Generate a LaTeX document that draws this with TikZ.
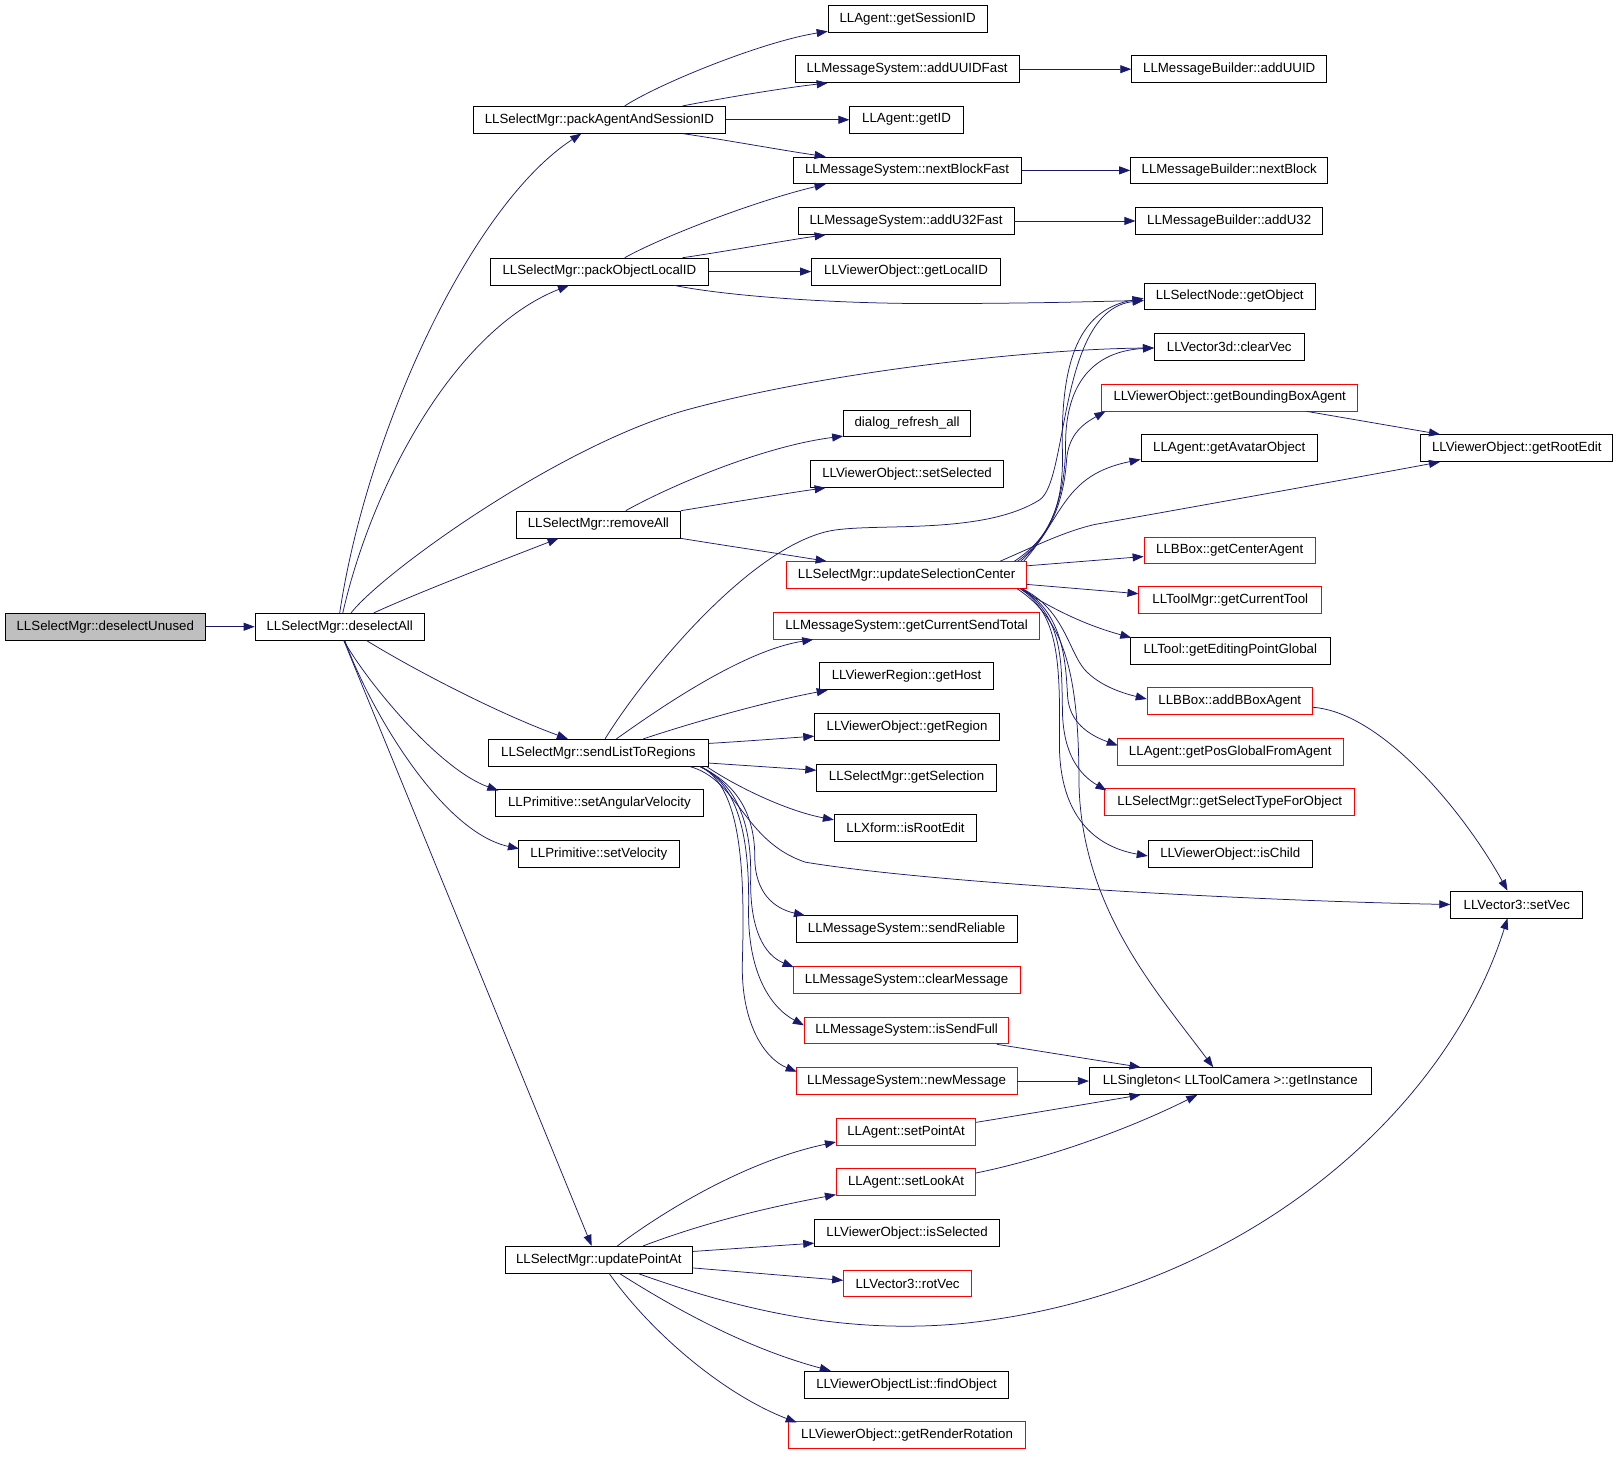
\documentclass[tikz,border=0pt]{standalone}
\usepackage{fontspec}
\setmainfont{Liberation Sans}
\usetikzlibrary{arrows.meta,calc}
\definecolor{edgec}{HTML}{191970}
\definecolor{grayfill}{HTML}{BFBFBF}
\tikzset{
  fn/.style={draw=black, line width=0.8pt, inner sep=0pt, minimum height=26.85pt,
    font=\fontsize{13.3}{15}\selectfont, fill=white},
  rn/.style={fn, draw=red},
  gn/.style={fn, fill=grayfill},
  bw/.style={minimum width=#1*1.0325pt},
  edg/.style={draw=edgec, line width=0.75pt, -{Triangle[length=11pt,width=8pt]}}
}
\begin{document}
\begin{tikzpicture}[x=1.0325pt, y=-1.0325pt]
\useasboundingbox (0,0) rectangle (1568,1410.2);
% column 1-2
\node[gn, bw=194] (dU) at (102,607) {LLSelectMgr::deselectUnused};
\node[fn, bw=164] (dA) at (329,607) {LLSelectMgr::deselectAll};
\node[fn, bw=245] (pA) at (580.5,116) {LLSelectMgr::packAgentAndSessionID};
\node[fn, bw=211] (pO) at (580.5,263) {LLSelectMgr::packObjectLocalID};
\node[fn, bw=159] (rA) at (579.5,508) {LLSelectMgr::removeAll};
\node[fn, bw=213] (sL) at (579.5,729) {LLSelectMgr::sendListToRegions};
\node[fn, bw=201] (sAV) at (580.5,778) {LLPrimitive::setAngularVelocity};
\node[fn, bw=156] (sV) at (580,827) {LLPrimitive::setVelocity};
\node[fn, bw=182] (uP) at (580,1220) {LLSelectMgr::updatePointAt};
% column 3
\node[fn, bw=154] (gSID) at (879,18) {LLAgent::getSessionID};
\node[fn, bw=217] (aUF) at (878.5,67) {LLMessageSystem::addUUIDFast};
\node[fn, bw=110] (gID) at (878,116) {LLAgent::getID};
\node[fn, bw=221] (nBF) at (878.5,165) {LLMessageSystem::nextBlockFast};
\node[fn, bw=209] (aU32F) at (877.5,214) {LLMessageSystem::addU32Fast};
\node[fn, bw=183] (gLID) at (877.5,263) {LLViewerObject::getLocalID};
\node[fn, bw=123] (dRA) at (878.5,410) {dialog\_refresh\_all};
\node[fn, bw=187] (sS) at (878.5,459) {LLViewerObject::setSelected};
\node[rn, bw=232] (uSC) at (878,557) {LLSelectMgr::updateSelectionCenter};
\node[rn, bw=258] (gCST) at (878,606) {LLMessageSystem::getCurrentSendTotal};
\node[fn, bw=168] (gH) at (878,655) {LLViewerRegion::getHost};
\node[fn, bw=179] (gR) at (878.5,704) {LLViewerObject::getRegion};
\node[fn, bw=174] (gS) at (878,753) {LLSelectMgr::getSelection};
\node[fn, bw=138] (iRE) at (877,802) {LLXform::isRootEdit};
\node[fn, bw=214] (sR) at (878,900) {LLMessageSystem::sendReliable};
\node[rn, bw=220] (cM) at (878,949) {LLMessageSystem::clearMessage};
\node[rn, bw=198] (iSF) at (878,998) {LLMessageSystem::isSendFull};
\node[rn, bw=214] (nM) at (878,1047) {LLMessageSystem::newMessage};
\node[rn, bw=135] (sPA) at (877.5,1096) {LLAgent::setPointAt};
\node[rn, bw=135] (sLA) at (877.5,1145) {LLAgent::setLookAt};
\node[fn, bw=179] (iS) at (878.5,1194) {LLViewerObject::isSelected};
\node[rn, bw=124] (rV) at (879,1243) {LLVector3::rotVec};
\node[fn, bw=198] (fO) at (878,1341) {LLViewerObjectList::findObject};
\node[rn, bw=229] (gRR) at (878.5,1390) {LLViewerObject::getRenderRotation};
% column 4
\node[fn, bw=189] (aUUID) at (1190.5,67) {LLMessageBuilder::addUUID};
\node[fn, bw=191] (nB) at (1190.5,165) {LLMessageBuilder::nextBlock};
\node[fn, bw=181] (aU32) at (1190.5,214) {LLMessageBuilder::addU32};
\node[fn, bw=166] (gO) at (1191,287) {LLSelectNode::getObject};
\node[fn, bw=145] (cV) at (1190.5,336) {LLVector3d::clearVec};
\node[rn, bw=248] (gBBA) at (1191,385) {LLViewerObject::getBoundingBoxAgent};
\node[fn, bw=171] (gAO) at (1190.5,434) {LLAgent::getAvatarObject};
\node[rn, bw=166] (gCA) at (1191,533) {LLBBox::getCenterAgent};
\node[rn, bw=177] (gCT) at (1191.5,581) {LLToolMgr::getCurrentTool};
\node[fn, bw=193] (gEPG) at (1191.5,630) {LLTool::getEditingPointGlobal};
\node[rn, bw=160] (aBBA) at (1191,679) {LLBBox::addBBoxAgent};
\node[rn, bw=219] (gPGFA) at (1191.5,728) {LLAgent::getPosGlobalFromAgent};
\node[rn, bw=242] (gSTFO) at (1191,777) {LLSelectMgr::getSelectTypeForObject};
\node[fn, bw=159] (iC) at (1191.5,827) {LLViewerObject::isChild};
\node[fn, bw=273] (gI) at (1191.5,1047) {LLSingleton< LLToolCamera >::getInstance};
% column 5
\node[fn, bw=186] (gRE) at (1469,434) {LLViewerObject::getRootEdit};
\node[fn, bw=128] (sVec) at (1469,876) {LLVector3::setVec};

% edges from deselectUnused / deselectAll
\draw[edg] (dU.east) -- (dA.west);
\draw[edg] (dA.north) .. controls (355,420) and (455,200) .. ($(pA.south)+(-17.5,0)$);
\draw[edg] ($(dA.north)+(3,0)$) .. controls (360,470) and (440,320) .. ($(pO.south)+(-29.5,0)$);
\draw[edg] ($(dA.north)+(11,0)$) .. controls (370,555) and (540,432) .. (665,397) .. controls (800,360) and (1000,338) .. ($(cV.west)+(0,1)$);
\draw[edg] ($(dA.north)+(33,0)$) .. controls (400,576) and (480,545) .. ($(rA.south)+(-38.5,0)$);
\draw[edg] ($(dA.south)+(26,0)$) .. controls (400,648) and (480,690) .. ($(sL.north)+(-29.5,0)$);
\draw[edg] ($(dA.south)+(4,0)$) .. controls (355,660) and (425,745) .. ($(sAV.north west)+(3,1)$);
\draw[edg] ($(dA.south)+(5,0)$) .. controls (355,680) and (425,805) .. ($(sV.west)+(1,-5)$);
\draw[edg] ($(dA.south)+(4,0)$) -- ($(uP.north)+(-7,0)$);

% packAgentAndSessionID
\draw[edg] ($(pA.north)+(24.5,0)$) .. controls (640,80) and (740,40) .. ($(gSID.south west)+(0,-1)$);
\draw[edg] ($(pA.north)+(80.5,0)$) .. controls (700,95) and (760,85) .. ($(aUF.south west)+(32,0)$);
\draw[edg] (pA.east) -- (gID.west);
\draw[edg] ($(pA.south)+(80.5,0)$) .. controls (700,135) and (760,146) .. ($(nBF.north west)+(32,0)$);

% packObjectLocalID
\draw[edg] ($(pO.north)+(24.5,0)$) .. controls (640,230) and (730,195) .. ($(nBF.south west)+(32,0)$);
\draw[edg] ($(pO.north)+(80.5,0)$) .. controls (700,244) and (760,233) .. ($(aU32F.south west)+(27,0)$);
\draw[edg] (pO.east) -- (gLID.west);
\draw[edg] ($(pO.south)+(72.5,0)$) .. controls (700,286) and (800,294) .. (900,294) .. controls (1000,294) and (1060,292) .. ($(gO.west)+(0,4)$);

% column 3 -> 4
\draw[edg] (aUF.east) -- (aUUID.west);
\draw[edg] (nBF.east) -- (nB.west);
\draw[edg] (aU32F.east) -- (aU32.west);

% removeAll
\draw[edg] ($(rA.north)+(26.5,0)$) .. controls (650,470) and (740,432) .. ($(dRA.south west)+(0,-1)$);
\draw[edg] (rA.north east) .. controls (700,488) and (760,478) .. ($(sS.south west)+(15,0)$);
\draw[edg] (rA.south east) .. controls (700,528) and (760,537) .. ($(uSC.north west)+(39,0)$);

% sendListToRegions
\draw[edg] ($(sL.north)+(6.5,0)$) .. controls (620,660) and (720,535) .. (800,515) .. controls (840,505) and (950,520) .. (1007,484) .. controls (1035,465) and (1025,300) .. ($(gO.west)+(0,4)$);
\draw[edg] ($(sL.north)+(17.5,0)$) .. controls (640,685) and (720,630) .. ($(gCST.south west)+(39,0)$);
\draw[edg] ($(sL.north)+(43.5,0)$) .. controls (670,700) and (740,680) .. ($(gH.south west)+(8,0)$);
\draw[edg] ($(sL.east)+(0,-9)$) .. controls (720,718) and (760,715) .. ($(gR.west)+(0,9)$);
\draw[edg] ($(sL.east)+(0,10)$) -- ($(gS.west)+(0,-7)$);
\draw[edg] ($(sL.south east)+(-2,0)$) .. controls (710,760) and (760,785) .. ($(iRE.west)+(0,-8)$);
\draw[edg] ($(sL.south)+(88.5,0)$) .. controls (715,755) and (720,815) .. (780,835) .. controls (900,855) and (1200,872) .. (sVec.west);
\draw[edg] ($(sL.south)+(98.5,0)$) .. controls (715,760) and (731,790) .. (731,830) .. controls (731,865) and (750,880) .. ($(sR.north west)+(9,0)$);
\draw[edg] ($(sL.south)+(98.5,0)$) .. controls (715,760) and (728,800) .. (727,850) .. controls (726,900) and (740,925) .. ($(cM.north west)+(1,1)$);
\draw[edg] ($(sL.south)+(98.5,0)$) .. controls (715,760) and (726,810) .. (725,880) .. controls (724,940) and (745,975) .. ($(iSF.west)+(0,-5)$);
\draw[edg] ($(sL.south)+(98.5,0)$) .. controls (715,760) and (722,830) .. (719,930) .. controls (717,990) and (740,1025) .. ($(nM.west)+(1,-9)$);

% updateSelectionCenter
\draw[edg] ($(uSC.north east)+(-12,0)$) .. controls (1010,525) and (1030,500) .. (1029,440) .. controls (1027,360) and (1040,300) .. ($(gO.west)+(0,2)$);
\draw[edg] ($(uSC.north east)+(-9,0)$) .. controls (1012,525) and (1032,490) .. (1032,430) .. controls (1032,370) and (1060,340) .. ($(cV.west)+(0,1)$);
\draw[edg] ($(uSC.north east)+(-6,0)$) .. controls (1015,520) and (1030,490) .. (1033,445) .. controls (1035,420) and (1050,410) .. ($(gBBA.south west)+(4,0)$);
\draw[edg] ($(uSC.north east)+(-3,0)$) .. controls (1030,500) and (1030,460) .. ($(gAO.west)+(0,11)$);
\draw[edg] ($(uSC.north east)+(-26,0)$) .. controls (1000,530) and (1030,515) .. (1060,508) .. controls (1150,492) and (1300,465) .. ($(gRE.south west)+(19,0)$);
\draw[edg] ($(uSC.east)+(0,-9)$) -- ($(gCA.west)+(0,6)$);
\draw[edg] ($(uSC.east)+(0,9)$) -- ($(gCT.west)+(0,-6)$);
\draw[edg] ($(uSC.south east)+(-6,0)$) .. controls (1020,590) and (1050,605) .. ($(gEPG.north west)+(1,1)$);
\draw[edg] ($(uSC.south east)+(-4,0)$) .. controls (1030,590) and (1035,630) .. (1050,648) .. controls (1065,665) and (1090,672) .. ($(aBBA.west)+(0,-2)$);
\draw[edg] ($(uSC.south east)+(-4,0)$) .. controls (1030,595) and (1032,640) .. (1034,675) .. controls (1036,700) and (1055,712) .. ($(gPGFA.west)+(1,-6)$);
\draw[edg] ($(uSC.south east)+(-4,0)$) .. controls (1030,600) and (1028,640) .. (1029,690) .. controls (1030,730) and (1045,750) .. ($(gSTFO.north west)+(2,2)$);
\draw[edg] ($(uSC.south east)+(-6,0)$) .. controls (1025,595) and (1027,640) .. (1026,720) .. controls (1026,790) and (1060,820) .. ($(iC.west)+(0,2)$);
\draw[edg] ($(uSC.south east)+(-9,0)$) .. controls (1030,600) and (1045,650) .. (1045,760) .. controls (1048,880) and (1120,960) .. ($(gI.north)+(-16.5,0)$);

% misc right side
\draw[edg] ($(gBBA.south east)+(-50,0)$) -- ($(gRE.north west)+(19,0)$);
\draw[edg] ($(aBBA.east)+(0,6)$) .. controls (1340,690) and (1420,790) .. ($(sVec.north)+(-9,0)$);
\draw[edg] ($(iSF.south east)+(-12,0)$) -- ($(gI.north west)+(50,0)$);
\draw[edg] (nM.east) -- (gI.west);
\draw[edg] ($(sPA.east)+(0,-9)$) .. controls (1000,1078) and (1060,1068) .. ($(gI.south west)+(50,0)$);
\draw[edg] ($(sLA.east)+(0,-9)$) .. controls (1000,1125) and (1080,1100) .. ($(gI.south west)+(105,0)$);

% updatePointAt
\draw[edg] ($(uP.north)+(18,0)$) .. controls (640,1175) and (720,1125) .. ($(sPA.west)+(0,10)$);
\draw[edg] ($(uP.north)+(43,0)$) .. controls (680,1185) and (740,1170) .. ($(sLA.west)+(0,12)$);
\draw[edg] ($(uP.east)+(0,-8)$) -- ($(iS.west)+(0,10)$);
\draw[edg] ($(uP.east)+(0,8)$) -- ($(rV.west)+(0,-3)$);
\draw[edg] ($(uP.south)+(38,0)$) .. controls (720,1270) and (820,1292) .. (930,1282) .. controls (1200,1255) and (1400,1080) .. ($(sVec.south)+(-9,0)$);
\draw[edg] ($(uP.south)+(20,0)$) .. controls (650,1265) and (720,1305) .. ($(fO.north west)+(26,0)$);
\draw[edg] ($(uP.south)+(10,0)$) .. controls (630,1290) and (700,1350) .. ($(gRR.north west)+(8,1)$);
\end{tikzpicture}
\end{document}
